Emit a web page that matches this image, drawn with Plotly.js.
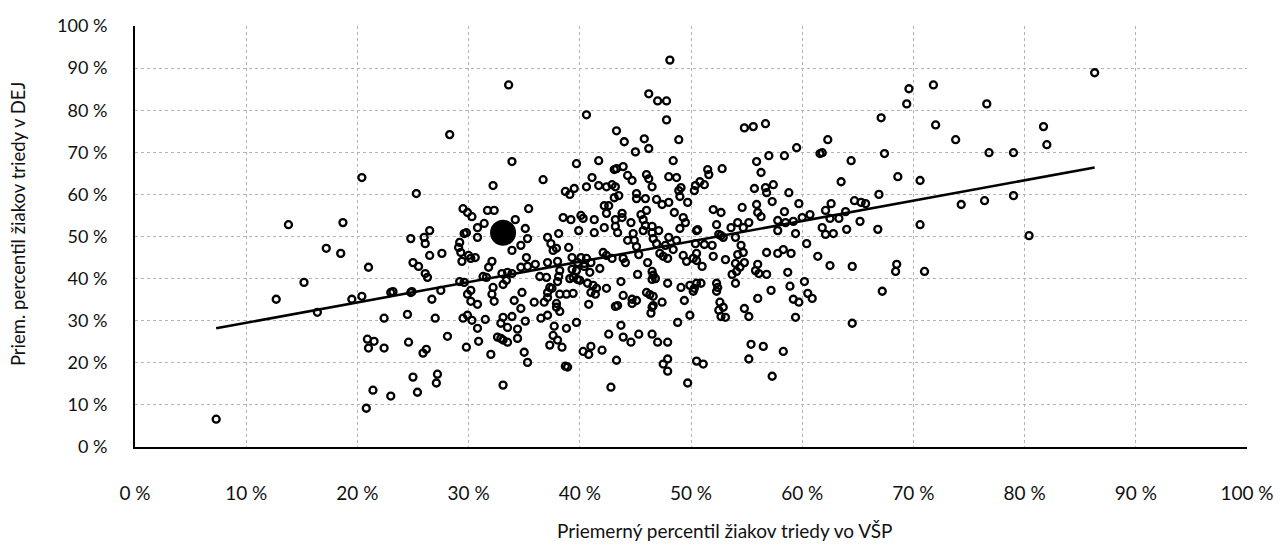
<!DOCTYPE html>
<html><head><meta charset="utf-8">
<script src="https://cdn.plot.ly/plotly-3.0.1.min.js"></script>
<style>html,body{margin:0;padding:0;background:#fff}#chart{width:1284px;height:545px}</style>
</head><body><div id="chart"></div>
<script>
// Average percentile of class pupils in VŠP (x) vs DEJ (y), in %
const vspX = [20.4,13.8,18.7,17.2,18.5,21.0,15.2,12.7,19.5,20.4,16.4,20.9,21.5,21.0,21.4,20.8,7.3,
33.6,40.6,28.3,33.9,39.7,41.7,36.7,41.1,32.2,39.5,40.6,41.7,38.7,39.1,25.3,29.5,29.9,30.3,31.7,32.3,35.4,38.5,39.2,40.1,40.3,41.3,34.2,31.4,30.8,26.5,35.1,39.9,
29.6,30.8,35.3,34.7,24.8,26.0,26.1,29.2,29.1,29.3,37.1,37.4,37.6,37.9,38.1,39.0,41.3,33.9,26.5,27.6,30.0,30.2,30.6,29.4,35.2,25.0,25.5,32.1,31.8,34.7,35.3,36.0,37.1,38.0,39.3,40.1,40.6,41.0,39.8,40.4,41.8,
26.1,26.3,31.3,31.6,33.0,33.5,33.9,33.4,33.1,36.4,37.0,38.2,38.1,38.0,39.3,39.7,39.4,39.1,39.8,40.9,40.4,40.7,41.2,41.5,41.0,41.4,29.2,29.6,23.0,24.8,27.5,26.7,32.2,32.1,32.3,30.2,29.9,30.2,30.8,34.8,34.1,37.3,37.1,37.1,38.2,38.8,39.4,35.9,36.8,37.9,37.9,38.2,40.8,
22.4,24.5,27.0,29.5,29.9,30.3,31.5,33.1,32.9,33.9,34.7,35.1,33.5,34.4,36.5,37.1,30.8,37.7,38.8,39.7,28.1,24.6,22.4,30.9,29.8,32.6,32.9,33.1,33.5,34.4,37.6,38.0,38.4,37.3,26.2,25.9,32.0,35.0,35.3,38.7,40.3,41.0,40.8,42.0,25.0,27.2,27.1,23.0,25.4,33.1,
48.1,46.2,47.0,47.8,47.8,43.3,44.0,45.8,48.9,45.0,46.2,54.8,55.6,56.7,59.5,61.6,58.4,57.0,55.9,56.3,43.1,43.9,48.4,44.3,44.7,46.0,46.2,46.5,48.0,48.7,49.1,48.9,49.0,42.4,42.9,43.2,43.1,43.5,45.1,45.1,45.9,46.9,47.4,48.0,49.7,50.4,50.3,50.8,51.2,51.5,51.6,52.8,55.7,56.7,57.4,56.8,58.8,57.3,59.7,55.9,56.0,56.3,54.6,52.0,52.7,58.4,
42.2,42.6,42.4,43.8,43.8,45.5,46.0,48.5,49.3,49.5,43.2,43.2,44.6,45.7,45.9,46.5,47.1,49.0,50.5,52.3,53.6,54.2,54.7,55.2,57.8,58.5,59.2,60.0,60.7,42.2,
44.8,45.7,46.5,43.4,44.3,44.9,45.1,46.6,46.9,47.7,48.0,48.4,48.7,50.4,51.2,51.9,52.5,52.9,54.0,54.5,54.7,54.2,57.8,59.4,60.4,61.4,56.8,57.8,58.3,59.0,42.1,42.4,42.9,43.9,44.1,45.3,46.1,47.2,47.5,47.9,49.3,49.6,50.2,50.5,50.5,51.0,52.0,53.1,54.0,54.8,54.4,54.1,53.7,56.0,55.8,56.1,56.8,58.7,60.2,
45.2,46.5,46.6,46.5,46.8,43.7,47.9,42.4,49.1,49.9,50.3,50.5,50.9,50.2,52.3,52.4,52.3,54.0,58.9,57.2,56.0,60.5,60.9,59.2,59.7,43.9,46.0,46.6,44.7,44.7,45.1,47.4,49.4,43.2,46.6,46.5,46.4,52.6,52.9,52.5,52.7,53.1,54.8,55.2,59.4,49.9,48.8,43.7,42.6,43.9,44.6,45.3,46.5,47.0,47.9,55.4,56.5,58.3,43.3,47.5,47.9,47.9,50.5,51.1,55.2,57.3,42.8,49.7,
69.6,71.8,69.4,76.6,67.1,72.0,62.3,73.8,67.4,64.4,76.8,79.0,68.6,70.6,63.5,66.9,62.6,62.1,64.7,65.3,65.7,63.9,74.3,76.4,79.0,62.5,63.3,65.2,61.8,64.0,66.8,70.6,
62.1,62.8,80.4,62.5,64.5,68.5,68.4,71.0,67.2,64.5,86.3,81.7,82.0,
38.9,61.8,43.3,50.6,52.7,46.3,43.4,23.2,24.9,29.8,37.5,40.0];
const dejY = [64.0,52.8,53.3,47.2,46.0,42.7,39.1,35.1,35.1,35.8,32.0,25.6,25.1,23.5,13.5,9.2,6.6,
86.0,78.9,74.2,67.8,67.3,68.0,63.5,64.0,62.1,61.4,61.8,62.1,60.7,60.0,60.2,56.6,55.7,54.7,56.2,56.2,56.6,54.5,54.0,55.0,54.3,54.0,54.0,53.1,52.1,51.4,51.9,51.4,
50.7,49.8,49.5,47.9,49.5,49.8,48.3,48.6,47.4,46.2,49.8,48.3,46.7,47.2,50.7,47.4,50.9,46.7,45.5,46.0,45.5,44.8,45.0,44.1,45.0,43.8,42.9,44.1,42.7,42.7,42.9,43.4,43.8,44.1,45.0,45.0,44.8,43.8,43.8,43.6,42.4,
41.2,40.3,40.5,40.3,41.2,41.5,41.2,39.6,38.6,40.5,40.3,41.9,40.5,39.3,42.2,41.9,40.3,40.0,39.8,41.5,42.9,38.9,38.4,37.7,36.7,36.3,39.3,39.1,36.7,36.7,37.2,35.1,37.9,36.3,34.6,37.2,36.3,34.6,33.9,36.7,34.8,37.9,36.7,35.5,36.3,36.3,36.5,34.4,34.4,34.1,33.2,32.2,33.9,
30.6,31.5,30.6,30.6,31.3,30.1,30.3,30.8,29.4,31.0,32.9,29.9,28.4,28.0,30.6,31.3,28.2,28.7,28.2,29.6,26.3,24.9,23.5,25.1,23.7,26.1,25.8,25.4,24.9,25.8,26.5,25.4,23.7,24.2,23.2,22.3,22.0,22.5,20.1,19.2,22.7,23.9,22.0,23.0,16.6,17.3,15.2,12.1,13.0,14.7,
91.9,83.9,82.2,82.2,77.7,75.1,72.5,73.2,73.0,70.1,70.9,75.8,76.1,76.8,71.1,69.7,69.2,69.2,67.8,65.2,65.9,66.6,68.0,64.5,63.3,64.7,63.7,61.8,64.2,64.0,61.6,60.9,59.5,61.8,62.3,61.8,59.2,59.7,60.2,59.0,59.0,58.8,57.6,58.1,58.1,62.1,60.9,63.0,62.3,65.9,64.7,66.1,61.4,61.6,62.3,60.4,60.4,58.3,57.8,57.6,55.7,54.7,56.9,56.4,55.7,55.9,
57.3,57.3,55.5,55.5,54.5,55.2,56.2,55.7,54.5,53.3,54.0,52.4,53.3,54.0,52.6,52.4,51.4,51.9,51.4,52.8,52.1,53.3,52.1,53.3,53.8,53.3,53.6,54.5,55.2,52.1,
50.7,51.4,50.9,50.9,49.1,49.1,47.6,49.5,48.3,47.9,49.8,46.9,49.1,48.3,48.1,47.9,50.5,49.8,49.8,47.9,46.2,45.7,51.4,50.7,48.3,45.3,46.2,46.0,46.9,46.0,46.2,45.5,44.8,44.8,43.8,45.7,43.8,46.0,45.3,44.8,45.5,44.1,44.8,44.3,46.0,42.9,45.3,44.5,43.6,43.8,42.7,41.7,41.0,43.4,41.9,41.2,41.0,41.5,39.3,
41.0,41.7,40.8,39.8,40.0,39.3,38.9,37.7,37.9,38.4,37.7,38.9,38.9,37.0,38.9,37.9,37.0,38.9,38.2,37.2,35.3,36.5,35.3,35.1,34.4,36.0,36.7,35.8,35.1,34.1,34.8,34.4,34.8,33.4,33.6,33.2,31.8,34.4,33.2,32.5,31.0,30.8,32.9,31.0,30.8,31.3,29.6,28.9,26.8,26.1,24.9,26.8,26.8,24.9,24.9,24.4,23.9,22.7,20.6,19.7,20.9,18.0,20.4,19.7,20.9,16.8,14.2,15.2,
85.1,86.0,81.5,81.5,78.2,76.5,73.0,73.0,69.7,68.0,69.9,69.9,64.2,63.3,63.0,60.0,57.8,56.2,58.5,58.1,57.8,55.9,57.6,58.5,59.7,54.3,54.3,53.6,52.1,51.7,51.7,52.8,
50.5,50.7,50.2,43.1,42.9,43.4,41.7,41.7,37.0,29.4,88.9,76.1,71.8,
19.0,69.9,66.1,51.6,50.2,36.2,33.6,36.9,36.9,50.9,37.7,39.6];
// Highlighted class (large marker)
const bigX = [33.1];
const bigY = [50.9];
// Linear trend line end points
const trendX = [7.3, 86.3];
const trendY = [28.2, 66.4];
const tickVals = [0,10,20,30,40,50,60,70,80,90,100];
const tickLabels = ['0 %','10 %','20 %','30 %','40 %','50 %','60 %','70 %','80 %','90 %','100 %'];
const xTitle = 'Priemerný percentil žiakov triedy vo VŠP';
const yTitle = 'Priem. percentil žiakov triedy v DEJ';

const FONT = 'Lato, "Open Sans", sans-serif';
const data = [
  {x: vspX, y: dejY, type:'scatter', mode:'markers',
   marker:{symbol:'circle-open', size:7, color:'#000', line:{width:2.3, color:'#000'}}, hoverinfo:'skip'},
  {x: trendX, y: trendY, type:'scatter', mode:'lines', line:{color:'#000', width:2.6}, hoverinfo:'skip'},
  {x: bigX, y: bigY, type:'scatter', mode:'markers', marker:{symbol:'circle', size:26, color:'#000'}, hoverinfo:'skip'}
];
const layout = {
  width:1284, height:545, showlegend:false,
  paper_bgcolor:'#fff', plot_bgcolor:'#fff',
  margin:{l:135, r:37, t:26, b:98},
  font:{family:FONT, color:'#111', size:18},
  xaxis:{range:[0,100], tickmode:'array', tickvals:tickVals, ticktext:tickLabels, showgrid:true, gridcolor:'#b4b4b4', griddash:'dot', gridwidth:1,
         zeroline:false, showline:true, linecolor:'#000', linewidth:2, ticks:'', ticklabelstandoff:28,
         tickfont:{size:19, family:FONT, color:'#111'}},
  yaxis:{range:[0,100], tickmode:'array', tickvals:tickVals, ticktext:tickLabels, showgrid:true, gridcolor:'#b4b4b4', griddash:'dot', gridwidth:1,
         zeroline:false, showline:true, linecolor:'#000', linewidth:2, ticks:'', ticklabelstandoff:22,
         tickfont:{size:18, family:FONT, color:'#111'}},
  annotations:[
    {text:xTitle, xref:'paper', yref:'paper', x:0.53, y:-0.198, xanchor:'center', yanchor:'middle', showarrow:false,
     font:{size:19, family:FONT, color:'#111'}},
    {text:yTitle, xref:'paper', yref:'paper', x:-0.105, y:0.53, xanchor:'center', yanchor:'middle', showarrow:false, textangle:-90,
     font:{size:18.5, family:FONT, color:'#111'}}
  ]
};
Plotly.newPlot('chart', data, layout, {staticPlot:true, displayModeBar:false});
</script></body></html>
